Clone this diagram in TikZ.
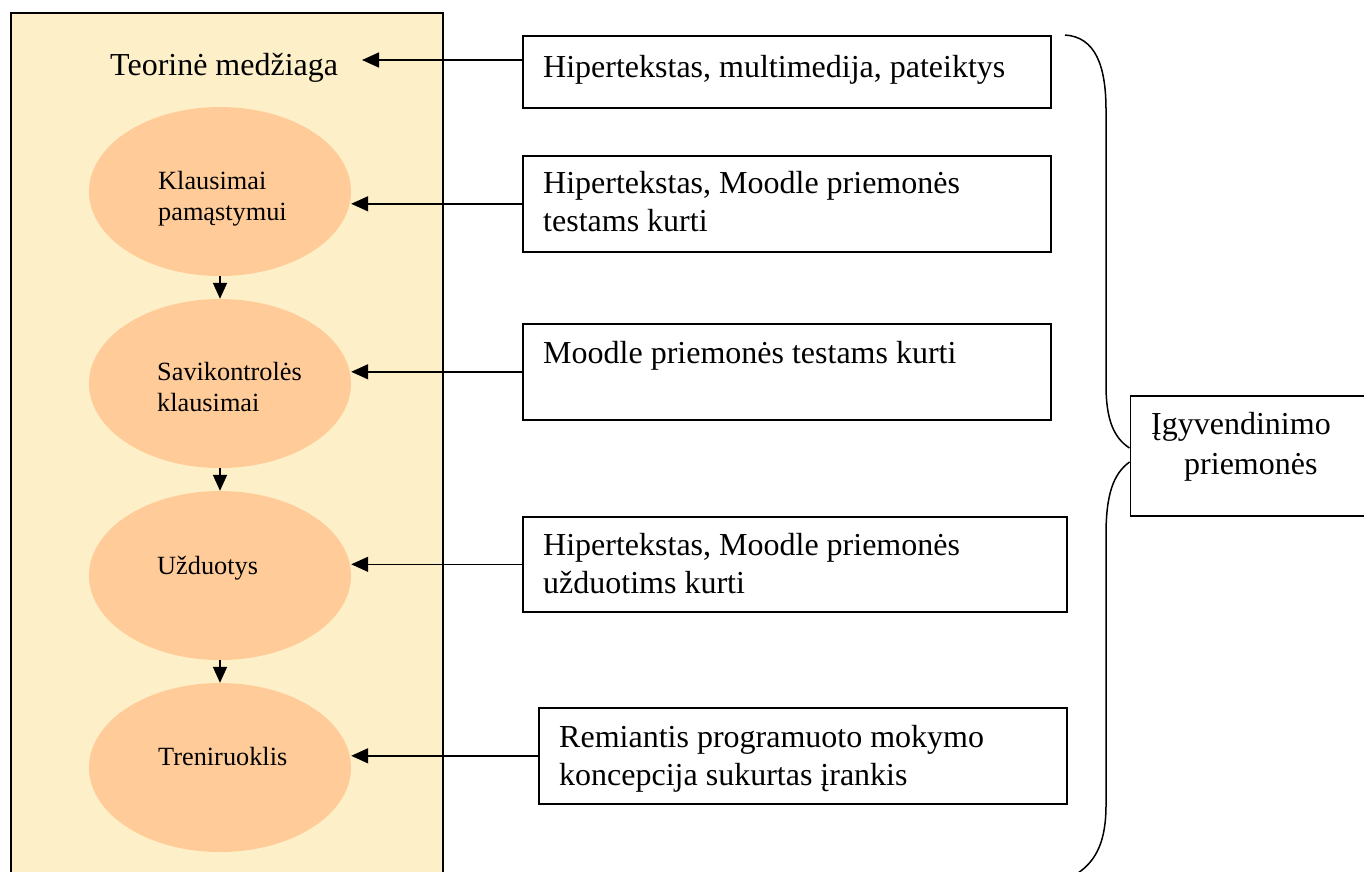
\documentclass[tikz,border=0pt]{standalone}
\usepackage{fontspec}
\setmainfont{Liberation Serif}
\usetikzlibrary{arrows.meta,shapes.geometric}
\definecolor{panelfill}{HTML}{FDEFC7}
\definecolor{bubble}{HTML}{FFCC99}

\begin{document}
\begin{tikzpicture}[x=1pt,y=-1pt,
  bigtext/.style={font=\fontsize{32}{38}\selectfont, inner sep=0pt, align=left},
  smalltext/.style={font=\fontsize{26.3}{31}\selectfont, inner sep=0pt, align=left},
  toolbox/.style={draw, line width=1.6pt, rectangle, anchor=north west, inner sep=0pt},
  bubblenode/.style={ellipse, fill=bubble, minimum width=262pt, minimum height=169pt, inner sep=0pt},
  feed/.style={line width=1.6pt, -{Triangle[length=17pt,width=15pt]}},
  flow/.style={line width=1.6pt, -{Triangle[length=16pt,width=14pt]}},
]
\useasboundingbox (0,0) rectangle (1364,871);
\begin{scope}
\clip (0,0) rectangle (1364,871);

% left panel with the learning material
\node[draw, fill=panelfill, line width=2pt, anchor=north west, inner sep=0pt,
      minimum width=432pt, minimum height=900pt] (panel) at (10,11.5) {};
\node[bigtext, anchor=base west] (theory) at (110,75) {Teorinė medžiaga};

% stages of the course
\node[bubblenode] (e1) at (220,191.5) {};
\node[bubblenode] (e2) at (220,383.5) {};
\node[bubblenode] (e3) at (220,575.5) {};
\node[bubblenode] (e4) at (220,767.5) {};
\node[smalltext, anchor=north west] (k1) at (158,171) {Klausimai\\pamąstymui};
\node[smalltext, anchor=north west] (k2) at (157,362) {Savikontrolės\\klausimai};
\node[smalltext, anchor=base west] (k3) at (157,574) {Užduotys};
\node[smalltext, anchor=base west] (k4) at (158,765) {Treniruoklis};

\draw[flow] (e1.south) -- (e2.north);
\draw[flow] (e2.south) -- (e3.north);
\draw[flow] (e3.south) -- (e4.north);

% tools
\node[toolbox, minimum width=528pt, minimum height=72pt] (b1) at (522,35) {};
\node[toolbox, minimum width=528pt, minimum height=96pt] (b2) at (522,155) {};
\node[toolbox, minimum width=528pt, minimum height=96pt] (b3) at (522,323) {};
\node[toolbox, minimum width=544pt, minimum height=95pt] (b4) at (522,516) {};
\node[toolbox, minimum width=528pt, minimum height=96pt] (b5) at (538,707) {};

\node[bigtext, anchor=north west] (t1) at (543,55) {Hipertekstas, multimedija, pateiktys};
\node[bigtext, anchor=north west] (t2) at (543,171) {Hipertekstas, Moodle priemonės\\testams kurti};
\node[bigtext, anchor=north west] (t3) at (543,341) {Moodle priemonės testams kurti};
\node[bigtext, anchor=north west] (t4) at (543,533) {Hipertekstas, Moodle priemonės\\užduotims kurti};
\node[bigtext, anchor=north west] (t5) at (559,725) {Remiantis programuoto mokymo\\koncepcija sukurtas įrankis};

\coordinate (tip0) at (362,60);
\draw[feed] (b1.west |- tip0) -- (tip0);
\draw[feed] (b2.west) -- (e1.east |- b2.west);
\draw[feed] (b3.west) -- (e2.east |- b3.west);
\draw[feed] (b4.west) -- (e3.east |- b4.west);
\draw[feed] (b5.west) -- (e4.east |- b5.west);

% grouping brace and its label
\node[toolbox, minimum width=280pt, minimum height=120pt] (means) at (1129.5,395) {};
\node[font=\fontsize{32}{40}\selectfont, inner sep=0pt, align=left, anchor=north west]
  (mt) at (1151,412) {Įgyvendinimo\\\hspace*{33pt}priemonės};

\draw[line width=1.5pt]
  (1065,35) .. controls (1095,37) and (1106,65) .. (1106,110)
  -- (1106,385) .. controls (1106,420) and (1114,438) .. (1129.5,448);
\draw[line width=1.5pt]
  (1129.5,462) .. controls (1113,474) and (1106,495) .. (1106,535)
  -- (1106,805) .. controls (1106,840) and (1097,860) .. (1078,873);
\end{scope}
\end{tikzpicture}
\end{document}
